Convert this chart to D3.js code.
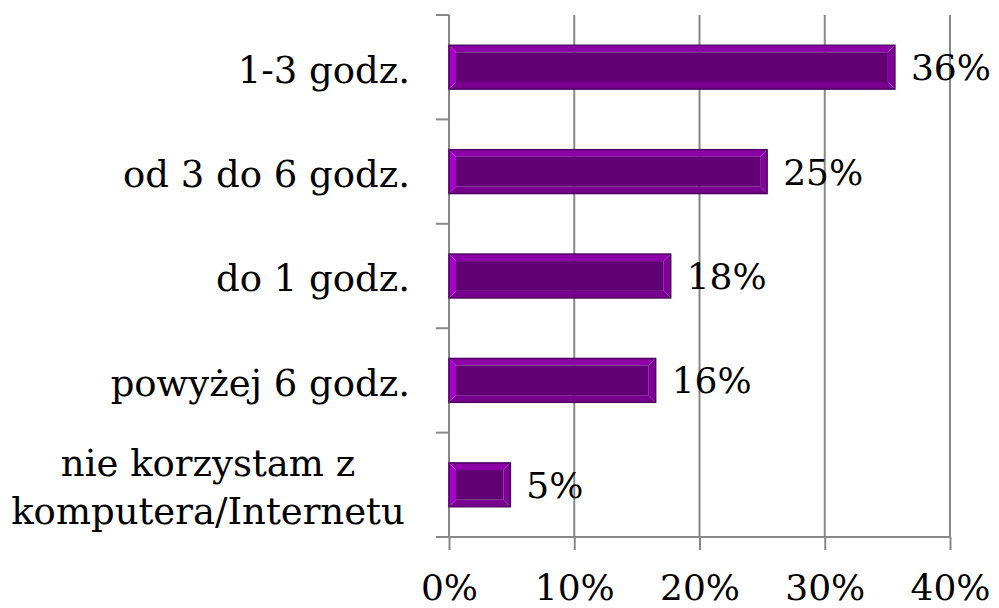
<!DOCTYPE html>
<html>
<head>
<meta charset="utf-8">
<script src="https://cdn.jsdelivr.net/npm/d3@7"></script>
<style>
  body { margin: 0; background: #fff; }
  svg text { font-family: "DejaVu Serif", serif; fill: #000; }
</style>
</head>
<body>
<svg id="chart" width="999" height="608"></svg>
<script>
const categories = ["1-3 godz.", "od 3 do 6 godz.", "do 1 godz.", "powyżej 6 godz.", "nie korzystam z\nkomputera/Internetu"];
const values = [35.6, 25.4, 17.7, 16.5, 4.9];
const valueLabels = ["36%", "25%", "18%", "16%", "5%"];
const xTicks = [0, 10, 20, 30, 40];

const svg = d3.select("#chart");
const plotLeft = 449, plotRight = 950, plotTop = 15, plotBottom = 537;

const x = d3.scaleLinear().domain([0, 40]).range([plotLeft, plotRight]);
const y = d3.scaleBand().domain(categories).range([plotTop, plotBottom]).paddingInner(0.58).paddingOuter(0.29);
const band = d3.scaleBand().domain(categories).range([plotTop, plotBottom]);

// gridlines
svg.append("g")
    .selectAll("line")
    .data(xTicks.slice(1))
    .join("line")
    .attr("x1", d => x(d)).attr("x2", d => x(d))
    .attr("y1", plotTop).attr("y2", plotBottom)
    .style("stroke", "#888").style("stroke-width", 2);

// bottom axis
const xAxis = svg.append("g")
    .attr("transform", `translate(0,${plotBottom})`)
    .call(d3.axisBottom(x).tickValues(xTicks).tickSize(13).tickPadding(24).tickFormat(d => d + "%"));
xAxis.select(".domain").attr("d", `M${plotLeft - 13},0H${plotRight}`).style("stroke", "#888").style("stroke-width", 2);
xAxis.selectAll(".tick line").style("stroke", "#888").style("stroke-width", 2);
xAxis.selectAll(".tick text").style("font-size", "36px").attr("dy", "0.71em").style("font-family", "DejaVu Serif");

// left axis with ticks at band boundaries
const yEdges = categories.map(c => band(c)).concat([plotBottom]);
svg.append("line")
    .attr("x1", plotLeft).attr("x2", plotLeft).attr("y1", plotTop).attr("y2", plotBottom)
    .style("stroke", "#888").style("stroke-width", 2);
svg.append("g").selectAll("line")
    .data(yEdges)
    .join("line")
    .attr("x1", plotLeft - 13).attr("x2", plotLeft)
    .attr("y1", d => d).attr("y2", d => d)
    .style("stroke", "#888").style("stroke-width", 2);

// bevel bars
const bev = 7;
const bars = svg.append("g").selectAll("g")
    .data(categories.map((c, i) => ({ c: c, v: values[i], label: valueLabels[i] })))
    .join("g");

bars.each(function(d) {
    const g = d3.select(this);
    const x0 = x(0), x1 = x(d.v), y0 = y(d.c), y1 = y(d.c) + y.bandwidth();
    const w = x1 - x0, h = y1 - y0;
    // top
    g.append("polygon").attr("points", [[x0, y0], [x1, y0], [x1 - bev, y0 + bev], [x0 + bev, y0 + bev]].join(" ")).style("fill", "#8c00a8");
    // bottom
    g.append("polygon").attr("points", [[x0, y1], [x1, y1], [x1 - bev, y1 - bev], [x0 + bev, y1 - bev]].join(" ")).style("fill", "#78008f");
    // left
    g.append("polygon").attr("points", [[x0, y0], [x0 + bev, y0 + bev], [x0 + bev, y1 - bev], [x0, y1]].join(" ")).style("fill", "#a800cc");
    // right
    g.append("polygon").attr("points", [[x1, y0], [x1 - bev, y0 + bev], [x1 - bev, y1 - bev], [x1, y1]].join(" ")).style("fill", "#80009a");
    // inner
    g.append("rect").attr("x", x0 + bev).attr("y", y0 + bev).attr("width", w - 2 * bev).attr("height", h - 2 * bev).style("fill", "#620075");
    // outline
    g.append("rect").attr("x", x0).attr("y", y0).attr("width", w).attr("height", h)
        .style("fill", "none").style("stroke", "#4e0060").style("stroke-width", 1.5);
    g.append("text")
        .attr("x", x1 + 16).attr("y", (y0 + y1) / 2)
        .attr("dy", "0.36em")
        .style("font-size", "36px")
        .text(d.label);
});

// category labels
svg.append("g").selectAll("text")
    .data(categories)
    .join("text")
    .style("font-size", "37px")
    .each(function(d) {
        const lines = d.split("\n");
        const cy = band(d) + band.bandwidth() / 2 + 2;
        const t = d3.select(this);
        const lh = 48;
        lines.forEach((l, i) => {
            t.append("tspan")
                .attr("x", lines.length > 1 ? 208 : 410)
                .attr("text-anchor", lines.length > 1 ? "middle" : "end")
                .attr("y", cy + (i - (lines.length - 1) / 2) * lh)
                .attr("dy", "0.36em")
                .text(l);
        });
    });
</script>
</body>
</html>
